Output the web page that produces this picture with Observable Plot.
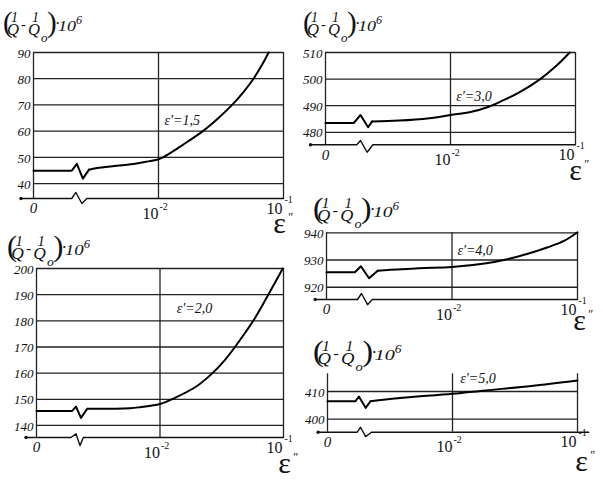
<!DOCTYPE html>
<html><head><meta charset="utf-8">
<script src="https://cdn.jsdelivr.net/npm/d3@7"></script>
<script src="https://cdn.jsdelivr.net/npm/@observablehq/plot@0.6"></script>
<style>
html,body{margin:0;padding:0;background:#fff;}
#chart{position:relative;width:603px;height:487px;overflow:hidden;background:#fff;}
#chart svg{position:absolute;left:0;top:0;}
#chart svg text{font-family:"Liberation Serif","Times New Roman","DejaVu Serif",serif !important;}
</style></head><body><div id="chart"></div>
<script>
// x values are log10(ε''); -3 stands for ε'' = 0 (left of the axis break)
// Panel ε' = 1,5
const p1U = [-3, -2.694, -2.653, -2.605, -2.556, -2.476, -2.2, -2.1, -2.0, -1.965, -1.798, -1.645, -1.520, -1.411, -1.319, -1.240, -1.175, -1.119];
const p1V = [44.9, 44.9, 47.5, 41.9, 45.3, 46.0, 47.5, 48.3, 49.3, 50, 55, 60, 65, 70, 75, 80, 85, 90];
const p1Ticks = [40, 50, 60, 70, 80, 90];
const p1AxisU = [-3.1, -2.694, -2.661, -2.613, -2.573, -1];
const p1AxisV = [34.3, 34.3, 36.6, 32.4, 34.3, 34.3];
// Panel ε' = 3,0
const p2U = [-3, -2.774, -2.72, -2.659, -2.627, -2.411, -2.169, -2.0, -1.84, -1.70, -1.58, -1.45, -1.282, -1.153, -1.046];
const p2V = [483.5, 483.5, 486.5, 481.9, 484.1, 484.4, 485.3, 486.5, 487.6, 489.5, 492, 495, 500, 505, 510];
const p2Ticks = [480, 490, 500, 510];
const p2AxisU = [-3.12, -2.75, -2.72, -2.667, -2.621, -1];
const p2AxisV = [475.3, 475.3, 476.9, 472.5, 475.3, 475.3];
// Panel ε' = 2,0
const p3U = [-3, -2.713, -2.680, -2.640, -2.589, -2.243, -2.162, -2.0, -1.905, -1.703, -1.575, -1.475, -1.393, -1.245, -1.123, -1.006];
const p3V = [145.5, 145.5, 147.2, 142.9, 146.4, 146.6, 147.0, 148.2, 150, 155, 160, 165, 170, 180, 190, 200];
const p3Ticks = [140, 150, 160, 170, 180, 190, 200];
const p3AxisU = [-3.085, -2.721, -2.680, -2.648, -2.621, -1];
const p3AxisV = [135.4, 135.4, 136.8, 132.3, 135.4, 135.4];
// Panel ε' = 4,0
const p4U = [-3, -2.774, -2.726, -2.661, -2.592, -2.264, -2.0, -1.726, -1.578, -1.403, -1.242, -1.108, -1.0];
const p4V = [925.5, 925.5, 927.7, 923.3, 926.1, 927.0, 927.4, 928.8, 930.1, 932.2, 934.6, 937.0, 940.2];
const p4Ticks = [920, 930, 940];
const p4AxisU = [-3.09, -2.753, -2.721, -2.673, -2.635, -1];
const p4AxisV = [915.5, 915.5, 917.7, 913.6, 915.5, 915.5];
// Panel ε' = 5,0
const p5U = [-3, -2.776, -2.749, -2.695, -2.655, -2.438, -2.0, -1.735, -1.37, -1.0];
const p5V = [406.5, 406.5, 408.2, 404.1, 406.5, 407.6, 409.2, 410.4, 412.0, 414.0];
const p5Ticks = [400, 410];
const p5AxisU = [-3.075, -2.762, -2.736, -2.695, -2.649, -0.91];
const p5AxisV = [395.3, 395.3, 397.1, 393.7, 395.3, 395.3];

const xTickPos = [-2, -1];
const xTickExp = ["-2", "-1"];

const GRID = "#222";

const panels = [
  {u: p1U, v: p1V, brk: 4, ticks: p1Ticks, axU: p1AxisU, axV: p1AxisV, label: "ε'=1,5", labelAt: [-1.952, 62.5], labelLen: 40,
   yDomain: [34.3, 90], frame: [33, 283, 52, 198], eps: [-4, 27], title: [3, 8, 1]},
  {u: p2U, v: p2V, brk: 4, ticks: p2Ticks, axU: p2AxisU, axV: p2AxisV, label: "ε'=3,0", labelAt: [-1.954, 491.9], labelLen: 40,
   yDomain: [475.3, 510], frame: [325, 575, 52, 144.3], eps: [0, 28], title: [303, 8, 1]},
  {u: p3U, v: p3V, brk: 4, ticks: p3Ticks, axU: p3AxisU, axV: p3AxisV, label: "ε'=2,0", labelAt: [-1.865, 182.8], labelLen: 46,
   yDomain: [135.4, 200], frame: [36, 283, 268, 437], eps: [1, 28], title: [7, 232, 1.05]},
  {u: p4U, v: p4V, brk: 4, ticks: p4Ticks, axU: p4AxisU, axV: p4AxisV, label: "ε'=4,0", labelAt: [-1.957, 932.0], labelLen: 47,
   yDomain: [915.5, 940], frame: [326, 577, 232.3, 299], eps: [2, 23], title: [313, 194, 1.09]},
  {u: p5U, v: p5V, brk: 4, ticks: p5Ticks, axU: p5AxisU, axV: p5AxisV, label: "ε'=5,0", labelAt: [-1.938, 413.2], labelLen: 41,
   yDomain: [395.3, 416.4], frame: [327, 577, 373.3, 431.7], eps: [4, 32], title: [313, 337, 1.12]}
];

const chart = document.getElementById("chart");

for (const p of panels) {
  const [x0, x1, yt, yb] = p.frame;
  const [lo, hi] = p.yDomain;
  const curve = p.u.map((u, i) => ({u, v: p.v[i]}));
  const axis = p.axU.map((u, i) => ({u, v: p.axV[i]}));
  const svg = Plot.plot({
    width: 603, height: 487,
    marginLeft: x0, marginRight: 603 - x1, marginTop: yt, marginBottom: 487 - yb,
    x: {type: "linear", domain: [-3, -1], axis: null},
    y: {type: "linear", domain: [lo, hi], axis: null},
    style: {background: "transparent", overflow: "visible"},
    marks: [
      Plot.ruleY(p.ticks, {stroke: GRID, strokeWidth: 1.3}),
      Plot.ruleX([-3, -2, -1], {y1: lo, y2: hi, stroke: GRID, strokeWidth: 1.3}),
      Plot.line(axis, {x: "u", y: "v", stroke: "#111", strokeWidth: 1.4}),
      Plot.dot([axis[0]], {x: "u", y: "v", r: 1.7, fill: "#111", stroke: "none"}),
      Plot.line(curve.slice(0, p.brk + 1), {x: "u", y: "v", stroke: "#000", strokeWidth: 2}),
      Plot.line(curve.slice(p.brk), {x: "u", y: "v", stroke: "#000", strokeWidth: 2, curve: "catmull-rom"}),
      Plot.text(p.ticks, {x: -3, y: d => d, text: d => String(d), textAnchor: "end", lineAnchor: "middle", dx: -3, dy: 1,
        fontSize: 13, fontStyle: "italic", fill: "#111", ariaLabel: "ytick"}),
      Plot.text(["0"], {x: -3, y: lo, textAnchor: "middle", lineAnchor: "middle", dy: 10, fontSize: 15, fontStyle: "italic", fill: "#111"}),
      Plot.text(["10"], {x: xTickPos[0], y: lo, textAnchor: "end", lineAnchor: "middle", dy: 15, fontSize: 16, fill: "#111"}),
      Plot.text([xTickExp[0]], {x: xTickPos[0], y: lo, textAnchor: "start", lineAnchor: "middle", dx: 1, dy: 8, fontSize: 10, fill: "#111"}),
      Plot.text(["10"], {x: xTickPos[1], y: lo, textAnchor: "end", lineAnchor: "middle", dy: 10, dx: -1, fontSize: 16, fill: "#111"}),
      Plot.text([xTickExp[1]], {x: xTickPos[1], y: lo, textAnchor: "start", lineAnchor: "middle", dx: 1, dy: 1, fontSize: 10, fill: "#111"}),
      Plot.text(["ε"], {x: -1, y: lo, textAnchor: "middle", lineAnchor: "bottom", dx: p.eps[0], dy: p.eps[1] + 7, fontSize: 30, fill: "#111"}),
      Plot.text(["″"], {x: -1, y: lo, textAnchor: "start", lineAnchor: "bottom", dx: p.eps[0] + 8, dy: p.eps[1] - 5, fontSize: 12, fontStyle: "italic", fill: "#111"}),
      Plot.text([p.label], {x: p.labelAt[0], y: p.labelAt[1], textAnchor: "start", lineAnchor: "bottom", fontSize: 14, fontStyle: "italic", fill: "#111", ariaLabel: "clabel"})
    ]
  });
  d3.select(svg).selectAll('g[aria-label="ytick"] text')
    .attr("textLength", function() { return this.textContent.length * 8.3; })
    .attr("lengthAdjust", "spacingAndGlyphs");
  d3.select(svg).selectAll('g[aria-label="clabel"] text')
    .attr("textLength", p.labelLen)
    .attr("lengthAdjust", "spacingAndGlyphs");
  chart.appendChild(svg);
}

// Y-axis titles  (1/Q − 1/Qo)·10^6
const titleParts = [
  {t: "(", x: 0, y: 24, fs: 29, it: false},
  {t: "1", x: 8, y: 14, fs: 14, it: true},
  {t: "Q", x: 4, y: 27, fs: 16, it: true, len: 12},
  {t: "-", x: 18, y: 21, fs: 15, it: false},
  {t: "1", x: 29, y: 14, fs: 14, it: true},
  {t: "Q", x: 25, y: 27, fs: 16, it: true, len: 12},
  {t: "o", x: 38, y: 34, fs: 13, it: true},
  {t: ")", x: 44, y: 24, fs: 29, it: false},
  {t: "·", x: 52, y: 21, fs: 16, it: false},
  {t: "10", x: 55, y: 23, fs: 15, it: true, len: 18},
  {t: "6", x: 73, y: 16, fs: 12, it: true}
];
const ov = d3.select(chart).append("svg").attr("width", 603).attr("height", 487).attr("fill", "#111");
for (const p of panels) {
  const [ox, oy, s] = p.title;
  const g = ov.append("g").attr("transform", `translate(${ox},${oy}) scale(${s},1)`);
  for (const tp of titleParts) {
    const t = g.append("text").attr("x", tp.x).attr("y", tp.y).attr("font-size", tp.fs)
      .attr("font-style", tp.it ? "italic" : "normal").text(tp.t);
    if (tp.len) t.attr("textLength", tp.len).attr("lengthAdjust", "spacingAndGlyphs");
  }
}
</script>
</body></html>
